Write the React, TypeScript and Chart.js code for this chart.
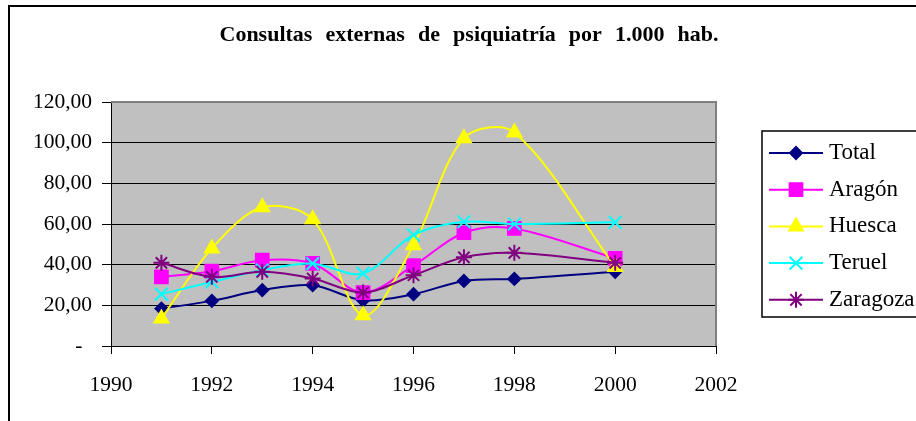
import React, { useEffect, useRef } from 'react';
import { Chart, registerables } from 'chart.js';
import { drawPoint } from 'chart.js/helpers';

Chart.register(...registerables);

const TITLE = 'Consultas externas de psiquiatría por 1.000 hab.';
const years = [1991, 1992, 1993, 1994, 1995, 1996, 1997, 1998, 2000];
const seriesNames = ['Total', 'Aragón', 'Huesca', 'Teruel', 'Zaragoza'];
const total = [18.4, 22.2, 27.5, 29.9, 22.5, 25.5, 32.0, 33.0, 36.5];
const aragon = [34.0, 36.8, 42.2, 40.6, 26.3, 39.5, 55.7, 57.8, 43.1];
const huesca = [13.5, 48.0, 68.2, 62.3, 15.1, 49.6, 102.2, 105.0, 38.9];
const teruel = [25.5, 31.5, 37.3, 40.5, 35.7, 54.6, 61.1, 60.0, 60.8];
const zaragoza = [40.9, 34.0, 36.5, 33.2, 26.3, 34.8, 43.6, 45.8, 40.9];
const seriesValues = [total, aragon, huesca, teruel, zaragoza];
const xMin = 1990;
const xMax = 2002;
const xStep = 2;
const yMin = 0;
const yMax = 120;
const yStep = 20;

const colors = ['#000080', '#FF00FF', '#FFFF00', '#00FFFF', '#800080'];
const pointStyles = ['rectRot', 'rect', 'triangle', 'crossRot', 'star'];
const pointRadii = [6, 9, 8, 9, 8];

const FONT = "'Liberation Serif', 'Times New Roman', serif";

const decor = {
  id: 'decor',
  beforeDraw(chart: any) {
    const { ctx, chartArea: a, width, height } = chart;
    ctx.save();
    ctx.fillStyle = '#ffffff';
    ctx.fillRect(0, 0, width, height);
    ctx.strokeStyle = '#000000';
    ctx.lineWidth = 2;
    ctx.beginPath();
    ctx.moveTo(9, height + 4);
    ctx.lineTo(9, 6);
    ctx.lineTo(width + 4, 6);
    ctx.stroke();
    ctx.fillStyle = '#C0C0C0';
    ctx.fillRect(a.left, a.top, a.right - a.left, a.bottom - a.top);
    ctx.restore();
  },
  beforeDatasetsDraw(chart: any) {
    const { ctx, chartArea: a } = chart;
    ctx.save();
    ctx.strokeStyle = '#808080';
    ctx.lineWidth = 2;
    ctx.beginPath();
    ctx.moveTo(a.left, a.top);
    ctx.lineTo(a.right, a.top);
    ctx.lineTo(a.right, a.bottom);
    ctx.stroke();
    ctx.restore();
  },
  afterDraw(chart: any) {
    const { ctx } = chart;
    ctx.save();
    // title
    ctx.font = `bold 22px ${FONT}`;
    ctx.fillStyle = '#000';
    ctx.textBaseline = 'middle';
    ctx.textAlign = 'left';
    const words = TITLE.split(' ');
    const widths = words.map((w) => ctx.measureText(w).width);
    const sum = widths.reduce((p, c) => p + c, 0);
    const target = 499;
    const gap = (target - sum) / (words.length - 1);
    let x = 469 - target / 2;
    words.forEach((w, i) => {
      ctx.fillText(w, x, 35);
      x += widths[i] + gap;
    });
    // legend
    ctx.strokeStyle = '#000';
    ctx.lineWidth = 1.5;
    ctx.strokeRect(762, 131, 220, 186);
    ctx.font = `23px ${FONT}`;
    seriesNames.forEach((name, i) => {
      const y = 153 + i * 36.7;
      ctx.strokeStyle = colors[i];
      ctx.fillStyle = colors[i];
      ctx.lineWidth = 2;
      ctx.beginPath();
      ctx.moveTo(769, y);
      ctx.lineTo(823, y);
      ctx.stroke();
      drawPoint(ctx, { pointStyle: pointStyles[i], radius: pointRadii[i], rotation: 0, borderWidth: 2 } as any, 796, y);
      ctx.fillStyle = '#000';
      ctx.fillText(name, 829, y);
    });
    ctx.restore();
  },
};

export default function App() {
  const ref = useRef<HTMLCanvasElement | null>(null);
  useEffect(() => {
    document.body.style.margin = '0';
    const canvas = ref.current!;
    const datasets = seriesNames.map((name, i) => ({
      label: name,
      data: years.map((yr, j) => ({ x: yr, y: seriesValues[i][j] })),
      borderColor: colors[i],
      backgroundColor: colors[i],
      pointBackgroundColor: colors[i],
      pointBorderColor: colors[i],
      pointStyle: pointStyles[i] as any,
      pointRadius: pointRadii[i],
      pointBorderWidth: 2,
      borderWidth: 2,
      tension: 0.33,
      order: seriesNames.length - i,
    }));
    const chart = new Chart(canvas, {
      type: 'line',
      data: { datasets },
      plugins: [decor],
      options: {
        responsive: false,
        animation: false,
        layout: { padding: { top: 102, right: 200, left: 0, bottom: 0 } },
        plugins: { legend: { display: false }, title: { display: false }, tooltip: { enabled: false } },
        scales: {
          x: {
            type: 'linear',
            min: xMin,
            max: xMax,
            afterFit: (s: any) => { s.height = 75; },
            ticks: {
              stepSize: xStep,
              callback: (v: any) => String(v),
              color: '#000',
              font: { family: FONT, size: 21.5 },
              padding: 18,
              maxRotation: 0,
            },
            grid: { drawOnChartArea: false, drawTicks: true, tickLength: 8, color: '#000' },
            border: { display: true, color: '#000', width: 1 },
          },
          y: {
            type: 'linear',
            min: yMin,
            max: yMax,
            afterFit: (s: any) => { s.width = 111; },
            ticks: {
              stepSize: yStep,
              callback: (v: any) => (v === 0 ? '- \u2009' : Number(v).toFixed(2).replace('.', ',')),
              color: '#000',
              font: { family: FONT, size: 21.5 },
              padding: 10,
            },
            grid: { color: '#000', lineWidth: 1, tickLength: 9 },
            border: { display: true, color: '#000', width: 1 },
          },
        },
      },
    });
    return () => chart.destroy();
  }, []);
  return (
    <div style={{ position: 'absolute', left: 0, top: 0 }}>
      <canvas ref={ref} width={916} height={421} style={{ display: 'block', width: 916, height: 421 }} />
    </div>
  );
}
